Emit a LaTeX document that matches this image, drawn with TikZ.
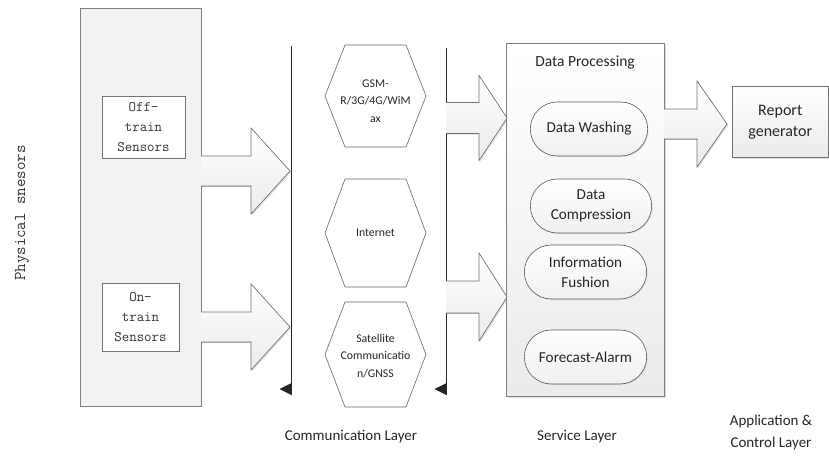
\documentclass[tikz,border=0pt]{standalone}
\usepackage{fontspec}
\setmainfont{Carlito}
\usetikzlibrary{shadows,shapes.misc}

% big hollow block arrow: start x, head start x, tip x, centre y, shaft half-height, head half-height
\newcommand\blockarrow[6]{%
  \filldraw[blockarrow] (#1,#4-#5) -- (#2,#4-#5) -- (#2,#4-#6) -- (#3,#4)
    -- (#2,#4+#6) -- (#2,#4+#5) -- (#1,#4+#5);
}
% hexagon with pointed left/right ends: centre x, centre y, half-width, half-height, top half-width
\newcommand\hexagonat[5]{%
  \filldraw[hexline] (#1-#3,#2) -- (#1-#5,#2-#4) -- (#1+#5,#2-#4) -- (#1+#3,#2)
    -- (#1+#5,#2+#4) -- (#1-#5,#2+#4) -- cycle;
}

\tikzset{
  blockarrow/.style={draw=black!55, line width=0.6pt, top color=white, bottom color=black!8,
    drop shadow={shadow xshift=1.2pt, shadow yshift=-1.2pt, fill=black!25}},
  hexline/.style={draw=black!60, line width=0.6pt, fill=white},
  panel/.style={draw=black!50, line width=0.7pt, fill=black!5},
  sensorbox/.style={draw=black!55, line width=0.7pt, fill=white, align=center,
    font=\ttfamily\fontsize{14.5}{20}\selectfont, text=black!80},
  pill/.style={draw=black!65, line width=0.6pt, rounded rectangle, top color=white, bottom color=black!6,
    minimum height=54pt, align=center, font=\fontsize{15.2}{20}\selectfont, text=black!85,
    drop shadow={shadow xshift=1pt, shadow yshift=-1pt, fill=black!20}},
  hextext/.style={align=center, font=\fontsize{11.8}{17.5}\selectfont, text=black!85},
  layerlabel/.style={align=center, font=\fontsize{15}{22}\selectfont, text=black!85},
  busline/.style={draw=black!85, line width=1pt},
  bustip/.style={fill=black!85}
}

\begin{document}
\begin{tikzpicture}[x=1pt,y=-1pt]
\useasboundingbox (0,0) rectangle (829,456);

% physical sensor panel
\node[panel, minimum width=121pt, minimum height=398pt, anchor=north west] (phys) at (80,8) {};
\node[sensorbox, minimum width=83pt, minimum height=62pt] (off) at (143.5,127) {Off-\\train\\Sensors};
\node[sensorbox, minimum width=77pt, minimum height=68pt] (on) at (140.5,317) {On-\\train\\Sensors};
\node[rotate=90, font=\ttfamily\fontsize{16.5}{20}\selectfont, text=black!80] (physlabel) at (22,213) {Physical snesors};

% arrows into the communication layer
\blockarrow{201}{251}{290}{171}{15}{43}
\blockarrow{201}{251}{290}{327}{15}{43}

% communication bus lines
\coordinate (busAtop) at (291,46);
\coordinate (busAbot) at (291,395);
\coordinate (busBtop) at (446,48);
\coordinate (busBbot) at (446,395);
\draw[busline] (busAtop) -- (busAbot);
\draw[busline] (busBtop) -- (busBbot);
\fill[bustip] ([xshift=0.5pt]busAbot) ++(0,-12) -- ++(-12,6) -- ++(12,6) -- cycle;
\fill[bustip] ([xshift=0.5pt]busBbot) ++(0,-12) -- ++(-12,6) -- ++(12,6) -- cycle;

% communication channels
\hexagonat{375.5}{96}{50.5}{51}{30.5}
\node[hextext] (gsm) at (375.5,101) {GSM-\\R/3G/4G/WiM\\ax};
\hexagonat{375.5}{233}{50.5}{54}{30.5}
\node[hextext] (internet) at (375.5,233) {Internet};
\hexagonat{375.5}{354.5}{50.5}{52.5}{30.5}
\node[hextext] (sat) at (375.5,356) {Satellite\\Communicatio\\n/GNSS};

% arrows into the service layer
\blockarrow{446}{479}{507}{118}{15.5}{42.5}
\blockarrow{446}{479}{507}{297}{16}{44}

% data processing panel
\node[panel, minimum width=158pt, minimum height=353pt, anchor=north west,
  top color=white, bottom color=black!8,
  drop shadow={shadow xshift=1.5pt, shadow yshift=-1.5pt, fill=black!25}] (dp) at (506,43) {};
\node[font=\fontsize{15.5}{18}\selectfont, text=black!85] (dptitle) at (585,62) {Data Processing};
\node[pill, minimum width=124pt] (wash) at (589,129) {Data Washing};
\node[pill, minimum width=128pt] (comp) at (591,206) {Data\\Compression};
\node[pill, minimum width=129pt] (fus) at (585.5,272) {Information\\Fushion};
\node[pill, minimum width=129pt] (alarm) at (585.5,357) {Forecast-Alarm};

% arrow to the report generator
\blockarrow{664}{697}{727}{124}{15}{43}
\node[draw=black!55, line width=0.6pt, top color=white, bottom color=black!8,
  minimum width=96pt, minimum height=71pt, anchor=north west, align=center,
  font=\fontsize{16}{21}\selectfont, text=black!85,
  drop shadow={shadow xshift=1.2pt, shadow yshift=-1.2pt, fill=black!25}] (report) at (732,86) {Report\\generator};

% layer captions
\node[layerlabel] (commlayer) at (351,437) {Communication Layer};
\node[layerlabel] (servlayer) at (577,437) {Service Layer};
\node[layerlabel] (applayer) at (771,432) {Application \&\\Control Layer};
\end{tikzpicture}
\end{document}
